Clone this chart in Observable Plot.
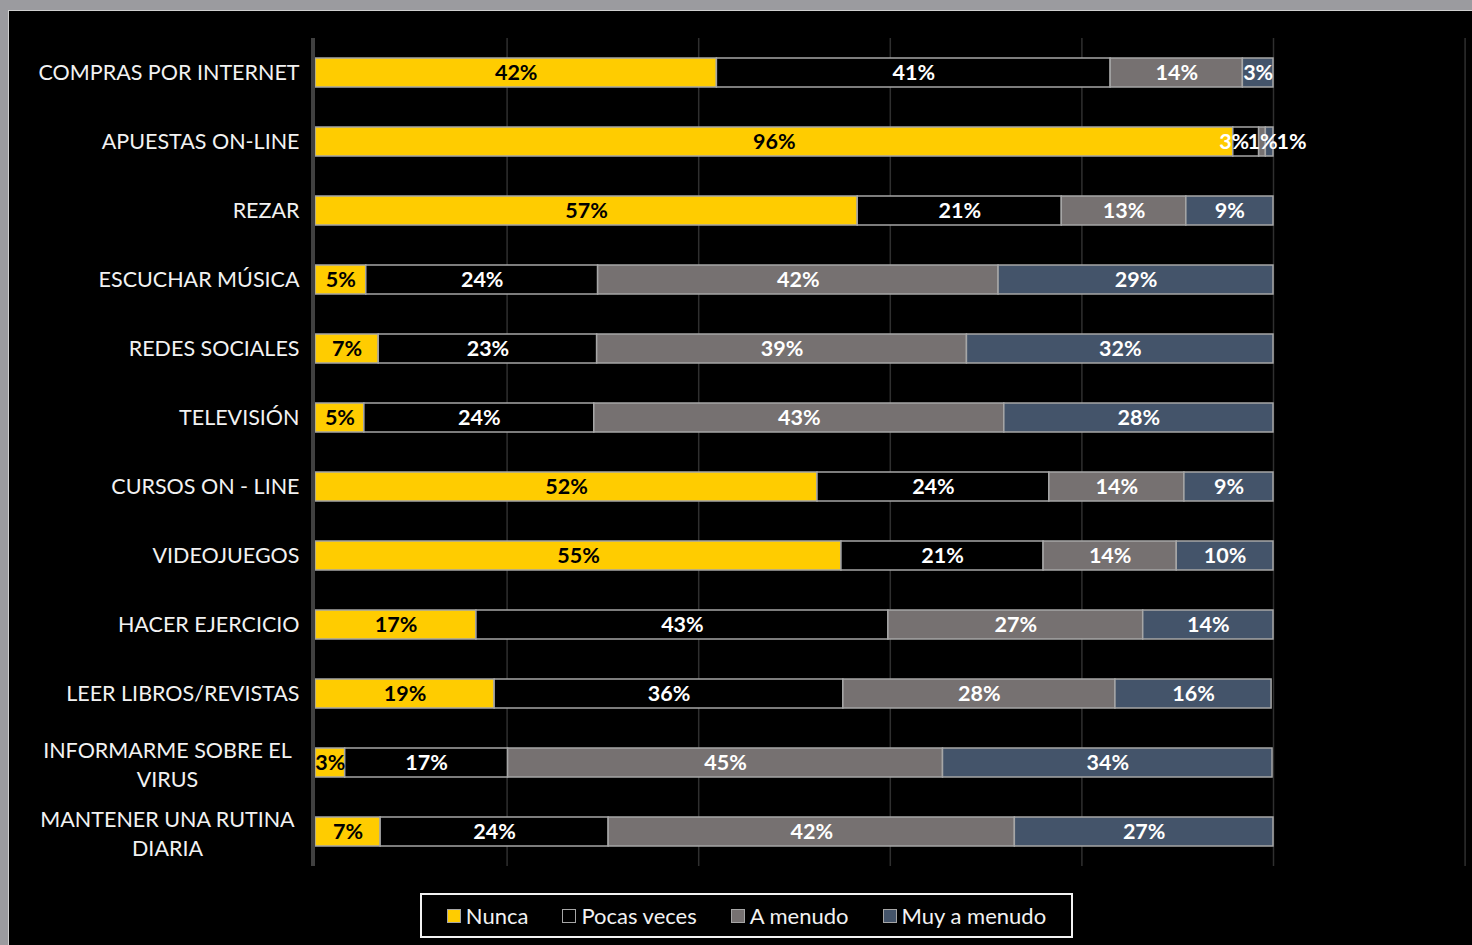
<!DOCTYPE html>
<html>
<head>
<meta charset="utf-8">
<script src="https://cdn.jsdelivr.net/npm/d3@7"></script>
<script src="https://cdn.jsdelivr.net/npm/@observablehq/plot@0.6"></script>
<style>
  html, body { margin: 0; padding: 0; background: #9b9b9f; width: 1472px; height: 945px; overflow: hidden; }
  #wrap { position: absolute; left: 8px; top: 10px; width: 1464px; height: 935px; background: #000;
          border-top: 1px solid #cfcfcf; border-left: 1px solid #cfcfcf; box-sizing: border-box; }
  #legend { position: absolute; left: 411px; top: 882px; width: 653px; height: 45px; box-sizing: border-box;
            border: 2px solid #f2f2f2; display: flex; align-items: center; justify-content: center; gap: 34px;
            font-family: Lato, "Open Sans", sans-serif; font-size: 22px; color: #f2f2f2; }
  .item { display: flex; align-items: center; gap: 5px; }
  .sw { width: 12px; height: 12px; border: 1.5px solid #a6a6a6; }
</style>
</head>
<body>
<div id="wrap"><div id="chart"></div><div id="legend"></div></div>
<script>
const categories = [
  "COMPRAS POR INTERNET", "APUESTAS ON-LINE", "REZAR", "ESCUCHAR MÚSICA", "REDES SOCIALES",
  "TELEVISIÓN", "CURSOS ON - LINE", "VIDEOJUEGOS", "HACER EJERCICIO", "LEER LIBROS/REVISTAS",
  "INFORMARME SOBRE EL\nVIRUS", "MANTENER UNA RUTINA\nDIARIA"
];
const responses = ["Nunca", "Pocas veces", "A menudo", "Muy a menudo"];
const nunca    = [41.9, 95.8, 56.6,  5.3,  6.6,  5.1, 52.4, 54.9, 16.8, 18.7,  3.1,  6.8];
const pocas    = [41.1,  2.7, 21.3, 24.2, 22.8, 24.0, 24.2, 21.1, 43.0, 36.4, 17.0, 23.8];
const aMenudo  = [13.8,  0.7, 13.0, 41.8, 38.6, 42.8, 14.1, 13.9, 26.6, 28.4, 45.4, 42.4];
const muy      = [ 3.2,  0.8,  9.1, 28.7, 32.0, 28.1,  9.3, 10.1, 13.6, 16.3, 34.4, 27.0];
const gridTicks = [20, 40, 60, 80, 100, 120];
const colors = ["#ffcc00", "#000000", "#767171", "#44546a"];

const series = [nunca, pocas, aMenudo, muy];
const data = [];
categories.forEach((c, i) => responses.forEach((r, j) => data.push({cat: c, resp: r, value: series[j][i]})));

const font = "Lato, 'Open Sans', sans-serif";
const W = 1463, H = 870;
const stack = (opts) => Plot.stackX({x: "value", y: "cat", z: "resp", order: null, ...opts});
const label = d => Math.round(d.value) + "%";
const isShift = d => d.cat === "APUESTAS ON-LINE" && (d.resp === "Pocas veces" || d.resp === "Muy a menudo");
const lbl = (test, opts) => Plot.text(data, Plot.filter(test, stack({text: label, fontSize: 21.5, fontWeight: "bold", ...opts})));

const plot = Plot.plot({
  width: W, height: H,
  marginLeft: 306, marginRight: W - 306 - 958 * 1.2, marginTop: 27, marginBottom: 15,
  style: {background: "transparent", fontFamily: font},
  x: {domain: [0, 120], axis: null},
  y: {domain: categories, axis: null, paddingInner: 0.58, paddingOuter: 0.29},
  color: {domain: responses, range: colors},
  marks: [
    Plot.ruleX(gridTicks, {stroke: "#2f2f2f", strokeWidth: 1.5}),
    Plot.barX(data, stack({fill: "resp", stroke: "#a6a6a6", strokeWidth: 1.5})),
    Plot.ruleX([0], {stroke: "#404040", strokeWidth: 4, dx: -2.5}),
    lbl(d => d.resp === "Nunca", {fill: "#000"}),
    lbl(d => d.resp !== "Nunca" && !isShift(d), {fill: "#fff"}),
    lbl(d => isShift(d) && d.resp === "Pocas veces", {fill: "#fff", dx: -12}),
    lbl(d => isShift(d) && d.resp === "Muy a menudo", {fill: "#fff", dx: 22}),
    Plot.text(categories.filter(c => !c.includes("\n")), {y: d => d, text: d => d, frameAnchor: "left", textAnchor: "end", dx: -16, fill: "#f2f2f2", fontSize: 21.5}),
    Plot.text(categories.filter(c => c.includes("\n")), {y: d => d, text: d => d, frameAnchor: "left", textAnchor: "middle", dx: -148, lineHeight: 1.38, fill: "#f2f2f2", fontSize: 21.5})
  ]
});
document.getElementById("chart").appendChild(plot);

const legend = document.getElementById("legend");
responses.forEach((r, i) => {
  const it = document.createElement("div"); it.className = "item";
  const sw = document.createElement("div"); sw.className = "sw"; sw.style.background = colors[i];
  const tx = document.createElement("span"); tx.textContent = r;
  it.appendChild(sw); it.appendChild(tx); legend.appendChild(it);
});
</script>
</body>
</html>
